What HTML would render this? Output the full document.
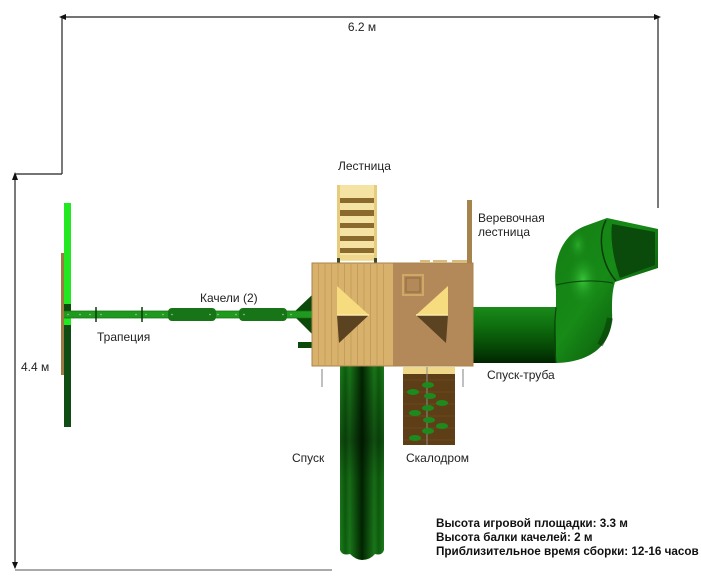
<!DOCTYPE html>
<html>
<head>
<meta charset="utf-8">
<style>
  html,body{margin:0;padding:0;background:#fff;}
  svg{display:block;}
  text{font-family:"Liberation Sans","DejaVu Sans",sans-serif;}
</style>
</head>
<body>
<svg width="701" height="581" viewBox="0 0 701 581" xmlns="http://www.w3.org/2000/svg">
  <defs>
    <linearGradient id="tubeG" x1="0" y1="0" x2="0" y2="1">
      <stop offset="0" stop-color="#1a8a1a"/>
      <stop offset="0.35" stop-color="#0e6e0e"/>
      <stop offset="0.75" stop-color="#054405"/>
      <stop offset="1" stop-color="#012401"/>
    </linearGradient>
    <linearGradient id="sG" x1="0" y1="0" x2="1" y2="1">
      <stop offset="0" stop-color="#137e13"/>
      <stop offset="0.45" stop-color="#178a17"/>
      <stop offset="0.8" stop-color="#0a560a"/>
      <stop offset="1" stop-color="#033303"/>
    </linearGradient>
    <radialGradient id="hl" cx="0.5" cy="0.5" r="0.5">
      <stop offset="0" stop-color="#3fd03f" stop-opacity="0.85"/>
      <stop offset="1" stop-color="#1a8a1a" stop-opacity="0"/>
    </radialGradient>
    <linearGradient id="slideG" x1="0" y1="0" x2="1" y2="0">
      <stop offset="0" stop-color="#1c7c1c"/>
      <stop offset="0.12" stop-color="#0e5e0e"/>
      <stop offset="0.22" stop-color="#1a761a"/>
      <stop offset="0.5" stop-color="#012401"/>
      <stop offset="0.78" stop-color="#1a761a"/>
      <stop offset="0.88" stop-color="#0e5e0e"/>
      <stop offset="1" stop-color="#1c7c1c"/>
    </linearGradient>
    <linearGradient id="slideV" x1="0" y1="0" x2="0" y2="1">
      <stop offset="0" stop-color="#000" stop-opacity="0"/>
      <stop offset="0.4" stop-color="#000" stop-opacity="0.35"/>
      <stop offset="0.6" stop-color="#000" stop-opacity="0.1"/>
      <stop offset="1" stop-color="#000" stop-opacity="0"/>
    </linearGradient>
  </defs>

  <!-- Dimension lines -->
  <g stroke="#222" stroke-width="1.2" fill="none">
    <line x1="62" y1="17" x2="658" y2="17"/>
    <line x1="62" y1="17" x2="62" y2="174"/>
    <line x1="62" y1="174" x2="15" y2="174"/>
    <line x1="15" y1="174" x2="15" y2="568"/>
    <line x1="658" y1="17" x2="658" y2="208"/>
  </g>
  <polygon points="59,17 66,14 66,20" fill="#111"/>
  <polygon points="661,17 654,14 654,20" fill="#111"/>
  <polygon points="15,172 12,180 18,180" fill="#111"/>
  <polygon points="15,569 12,562 18,562" fill="#111"/>
  <line x1="15" y1="570" x2="332" y2="570" stroke="#aaa" stroke-width="2"/>

  <!-- Swing beam assembly -->
  <rect x="61" y="253" width="3.5" height="122" fill="#9c7a44"/>
  <rect x="64" y="203" width="7" height="101" fill="#22e822"/>
  <rect x="64" y="304" width="7" height="7" fill="#0c4a0c"/>
  <rect x="64" y="318" width="7" height="7" fill="#22e822"/>
  <rect x="64" y="325" width="7" height="102" fill="#0f4d14"/>
  <polygon points="292,314 312,295 312,334" fill="#0c4a0c"/>
  <rect x="298" y="342" width="14" height="6" fill="#0b4a0b"/>
  <rect x="64" y="311" width="249" height="7" fill="#1f9a1f"/>
  <line x1="64" y1="311" x2="313" y2="311" stroke="#137013" stroke-width="0.8"/>
  <line x1="64" y1="318" x2="313" y2="318" stroke="#137013" stroke-width="0.8"/>
  <rect x="168" y="308" width="48" height="13" rx="4" fill="#177417"/>
  <rect x="239" y="308" width="48" height="13" rx="4" fill="#177417"/>
  <g stroke="#0a3a0a" stroke-width="1.5">
    <line x1="96" y1="307" x2="96" y2="322"/>
    <line x1="142" y1="307" x2="142" y2="322"/>
  </g>
  <g fill="#9ad09a">
    <circle cx="68" cy="314.5" r="0.8"/><circle cx="80" cy="314.5" r="0.8"/>
    <circle cx="90" cy="314.5" r="0.8"/><circle cx="101" cy="314.5" r="0.8"/>
    <circle cx="136" cy="314.5" r="0.8"/><circle cx="146" cy="314.5" r="0.8"/>
    <circle cx="163" cy="314.5" r="0.8"/><circle cx="172" cy="314.5" r="0.8"/>
    <circle cx="210" cy="314.5" r="0.8"/><circle cx="218" cy="314.5" r="0.8"/>
    <circle cx="236" cy="314.5" r="0.8"/><circle cx="244" cy="314.5" r="0.8"/>
    <circle cx="283" cy="314.5" r="0.8"/><circle cx="291" cy="314.5" r="0.8"/>
  </g>

  <!-- Ladder -->
  <rect x="340" y="185" width="34" height="76" fill="#f4e3a2"/>
  <rect x="337" y="185" width="3" height="77" fill="#e8cc7e"/>
  <rect x="374" y="185" width="3" height="77" fill="#e8cc7e"/>
  <g fill="#8b6a2e">
    <rect x="340" y="198" width="34" height="5"/>
    <rect x="340" y="210" width="34" height="6"/>
    <rect x="340" y="223" width="34" height="5"/>
    <rect x="340" y="236" width="34" height="5"/>
    <rect x="340" y="248" width="34" height="5"/>
  </g>
  <rect x="340" y="255" width="34" height="5" fill="#efd88e"/>
  <rect x="337" y="258" width="3" height="5" fill="#3a4a2a"/>
  <rect x="374" y="258" width="3" height="5" fill="#3a4a2a"/>

  <!-- Rope ladder board -->
  <rect x="467" y="200" width="5" height="63" fill="#a6824c"/>

  <!-- Tube slide -->
  <rect x="473" y="307" width="84" height="56" fill="url(#tubeG)"/>
  <path d="M556,307 L556,290 C552,260 562,235 585,226 L607,218 L658,229 L658,268 L615,282 C612,292 612,300 612,312 C614,338 598,362 556,363 Z" fill="url(#sG)"/>
  <ellipse cx="583" cy="280" rx="16" ry="26" fill="url(#hl)"/>
  <ellipse cx="578" cy="245" rx="10" ry="16" fill="url(#hl)" opacity="0.6"/>
  <path d="M612,224 L655,232 L655,265 L620,278 C614,262 610,240 612,224 Z" fill="#0a4a0a"/>
  <path d="M606,220 C598,235 600,262 616,281" stroke="#0a3a0a" stroke-width="1.5" fill="none"/>
  <path d="M556,285 Q585,278 613,283" stroke="#0a4a0a" stroke-width="1.2" fill="none"/>
  <path d="M556,307 Q553,335 556,363" stroke="#0a4a0a" stroke-width="1.2" fill="none"/>
  <path d="M600,345 Q608,330 610,318" stroke="#033303" stroke-width="6" fill="none" opacity="0.5"/>

  <!-- Slide (down) -->
  <path d="M340,364 L340,550 Q342,556 350,554 Q356,560 362,560 Q370,560 375,554 Q382,556 384,550 L384,364 Z" fill="url(#slideG)"/>
  <rect x="340" y="364" width="44" height="190" fill="url(#slideV)"/>

  <!-- Climbing wall -->
  <rect x="403" y="367" width="52" height="78" fill="#5e3e16"/>
  <g stroke="#6e4c20" stroke-width="0.7">
    <line x1="403" y1="380" x2="455" y2="380"/><line x1="403" y1="392" x2="455" y2="392"/>
    <line x1="403" y1="404" x2="455" y2="404"/><line x1="403" y1="416" x2="455" y2="416"/>
    <line x1="403" y1="428" x2="455" y2="428"/><line x1="403" y1="440" x2="455" y2="440"/>
  </g>
  <rect x="403" y="367" width="52" height="7" fill="#efd88a"/>
  <line x1="427" y1="367" x2="427" y2="445" stroke="#8a8a8a" stroke-width="1"/>
  <g fill="#1d8a1d">
    <ellipse cx="428" cy="385" rx="6" ry="3"/>
    <ellipse cx="413" cy="392" rx="6" ry="3"/>
    <ellipse cx="430" cy="396" rx="6" ry="3"/>
    <ellipse cx="442" cy="403" rx="6" ry="3"/>
    <ellipse cx="415" cy="413" rx="6" ry="3"/>
    <ellipse cx="428" cy="408" rx="6" ry="3"/>
    <ellipse cx="429" cy="420" rx="6" ry="3"/>
    <ellipse cx="442" cy="426" rx="6" ry="3"/>
    <ellipse cx="428" cy="431" rx="6" ry="3"/>
    <ellipse cx="415" cy="438" rx="6" ry="3"/>
  </g>

  <g stroke="#aaa" stroke-width="1.5">
    <line x1="322" y1="369" x2="322" y2="387"/>
    <line x1="463" y1="369" x2="463" y2="387"/>
  </g>

  <!-- Platform -->
  <rect x="312" y="263" width="81" height="103" fill="#d8b26c"/>
  <rect x="393" y="263" width="80" height="103" fill="#b3895a"/>
  <g stroke="#c29a55" stroke-width="0.8">
    <line x1="318.5" y1="264" x2="318.5" y2="365"/><line x1="325" y1="264" x2="325" y2="365"/>
    <line x1="331.5" y1="264" x2="331.5" y2="365"/><line x1="338" y1="264" x2="338" y2="365"/>
    <line x1="344.5" y1="264" x2="344.5" y2="365"/><line x1="351" y1="264" x2="351" y2="365"/>
    <line x1="357.5" y1="264" x2="357.5" y2="365"/><line x1="364" y1="264" x2="364" y2="365"/>
    <line x1="370.5" y1="264" x2="370.5" y2="365"/><line x1="377" y1="264" x2="377" y2="365"/>
    <line x1="383.5" y1="264" x2="383.5" y2="365"/>
  </g>
  <rect x="312" y="263" width="161" height="103" fill="none" stroke="#a8834c" stroke-width="1"/>
  <g fill="#d8bb80">
    <rect x="420" y="260" width="10" height="3"/>
    <rect x="433" y="260" width="14" height="3"/>
    <rect x="452" y="260" width="15" height="3"/>
  </g>
  <rect x="403" y="275" width="20" height="20" fill="none" stroke="#cfa868" stroke-width="2"/>
  <rect x="406" y="278" width="14" height="14" fill="none" stroke="#8f6a3a" stroke-width="1"/>
  <polygon points="337,286 337,315 369,315" fill="#f6dc7e"/>
  <polygon points="337,315 369,315 339,343" fill="#5b4220"/>
  <line x1="337" y1="315" x2="369" y2="315" stroke="#fbeaa8" stroke-width="1.5"/>
  <polygon points="448,286 448,315 416,315" fill="#f6dc7e"/>
  <polygon points="416,315 448,315 446,343" fill="#5b4220"/>
  <line x1="416" y1="315" x2="448" y2="315" stroke="#fbeaa8" stroke-width="1.5"/>

  <!-- Labels -->
  <g font-size="12" fill="#222">
    <text x="362" y="31" text-anchor="middle">6.2 м</text>
    <text x="338" y="170">Лестница</text>
    <text x="478" y="222">Веревочная</text>
    <text x="478" y="236">лестница</text>
    <text x="200" y="302">Качели (2)</text>
    <text x="97" y="341">Трапеция</text>
    <text x="21" y="371">4.4 м</text>
    <text x="487" y="379">Спуск-труба</text>
    <text x="292" y="462">Спуск</text>
    <text x="406" y="462">Скалодром</text>
  </g>
  <g font-size="11.7" font-weight="bold" fill="#111">
    <text x="436" y="527">Высота игровой площадки:  3.3 м</text>
    <text x="436" y="541">Высота балки качелей: 2 м</text>
    <text x="436" y="555">Приблизительное время сборки: 12-16 часов</text>
  </g>
</svg>
</body>
</html>
